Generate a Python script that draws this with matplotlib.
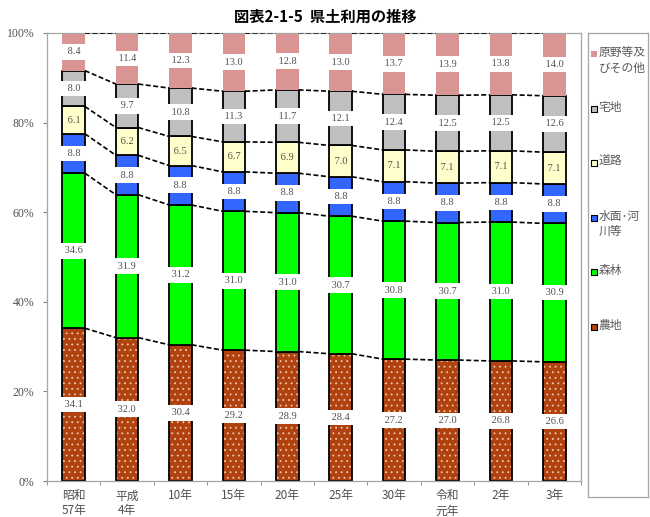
import matplotlib
matplotlib.use("Agg")
from matplotlib import pyplot as plt
import numpy as np

plt.rcParams['font.family'] = ['Liberation Serif', 'Noto Sans CJK JP', 'DejaVu Sans']
plt.rcParams['hatch.linewidth'] = 0.6

years = ["昭和\n57年", "平成\n4年", "10年", "15年", "20年", "25年", "30年", "令和\n元年", "2年", "3年"]

farmland = [34.1, 32.0, 30.4, 29.2, 28.9, 28.4, 27.2, 27.0, 26.8, 26.6]
forest = [34.6, 31.9, 31.2, 31.0, 31.0, 30.7, 30.8, 30.7, 31.0, 30.9]
water = [8.8, 8.8, 8.8, 8.8, 8.8, 8.8, 8.8, 8.8, 8.8, 8.8]
road = [6.1, 6.2, 6.5, 6.7, 6.9, 7.0, 7.1, 7.1, 7.1, 7.1]
residential = [8.0, 9.7, 10.8, 11.3, 11.7, 12.1, 12.4, 12.5, 12.5, 12.6]
other = [8.4, 11.4, 12.3, 13.0, 12.8, 13.0, 13.7, 13.9, 13.8, 14.0]

series = [farmland, forest, water, road, residential, other]
names = ["農地", "森林", "水面･河\n川等", "道路", "宅地", "原野等及\nびその他"]
colors = ["#B0420F", "#00FF00", "#3366FF", "#FFFFCC", "#BFBFBF", "#D99594"]

fig = plt.figure(figsize=(6.5, 5.17), dpi=100)
ax = fig.add_axes([47/650, 36/517, 534/650, 448/517])

x = np.arange(len(years))
w = 0.42
bottom = np.zeros(len(years))
txt_color = "#505050"

for i, (vals, c) in enumerate(zip(series, colors)):
    vals = np.array(vals)
    if i == 0:
        ax.bar(x, vals, w, bottom=bottom, color=c, hatch="...", edgecolor="#F0C8B0",
               linewidth=0, zorder=2)
        ax.bar(x, vals, w, bottom=bottom, color="none", edgecolor="black",
               linewidth=1.3, zorder=2)
    elif i == len(series) - 1:
        ax.bar(x, vals, w, bottom=bottom, color=c, linewidth=0, zorder=2)
    else:
        ax.bar(x, vals, w, bottom=bottom, color=c, edgecolor="black",
               linewidth=1.3, zorder=2)
    # road labels sit straight on the pale yellow, the rest get a white box
    box = None if i == 3 else dict(boxstyle="square,pad=0.32", fc="white", ec="none")
    for xi, b, v in zip(x, bottom, vals):
        ax.text(xi, b + v / 2, f" {v:.1f} ", ha="center", va="center", fontsize=7.5,
                color=txt_color, zorder=5, bbox=box)
    bottom = bottom + vals
    # dashed connectors between bars
    for j in range(len(years) - 1):
        ax.plot([x[j] + w / 2, x[j + 1] - w / 2], [bottom[j], bottom[j + 1]],
                color="black", linestyle=(0, (3, 1.5)), linewidth=1.2, zorder=4)

ax.set_xlim(-0.5, len(years) - 0.5)
ax.set_ylim(0, 100)
ax.set_yticks(np.arange(0, 101, 20))
ax.set_yticklabels([f"{t}%" for t in range(0, 101, 20)], fontsize=8.5, color=txt_color)
ax.set_xticks(x)
ax.set_xticklabels(years, fontsize=8.5, color=txt_color, family=['Noto Sans CJK JP', 'DejaVu Sans'])
ax.set_xticks(np.arange(-0.5, len(years), 1), minor=True)
ax.tick_params(axis="x", which="major", length=0, pad=6)
ax.tick_params(axis="x", which="minor", length=3, color="#808080", direction="out")
ax.tick_params(axis="y", length=3, color="#808080", direction="out", pad=6)
for s in ax.spines.values():
    s.set_color("#A6A6A6")
    s.set_linewidth(0.9)

fig.text(0.5, 1 - 17/517, "図表2-1-5  県土利用の推移", ha="center", va="center",
         fontsize=11, fontweight="bold", family=['Noto Sans CJK JP', 'DejaVu Sans'])

# legend box
lax = fig.add_axes([588/650, 20/517, 60/650, 464/517])
lax.set_xlim(0, 1)
lax.set_ylim(0, 1)
lax.set_xticks([])
lax.set_yticks([])
for s in lax.spines.values():
    s.set_color("#A6A6A6")
    s.set_linewidth(0.9)
order = list(range(len(series)))[::-1]
for k, i in enumerate(order):
    yy = 1 - (21 + 54.5 * k) / 464
    ec = "none" if i == len(series) - 1 else "black"
    lax.scatter([0.1], [yy], s=18, marker="s", color=colors[i], edgecolors=ec, linewidths=0.8)
    lax.text(0.18, yy + 8/464, names[i], ha="left", va="top", fontsize=8.5,
             color="#595959", linespacing=1.25, family=['Noto Sans CJK JP', 'DejaVu Sans'])

plt.savefig("out.png", dpi=100)
